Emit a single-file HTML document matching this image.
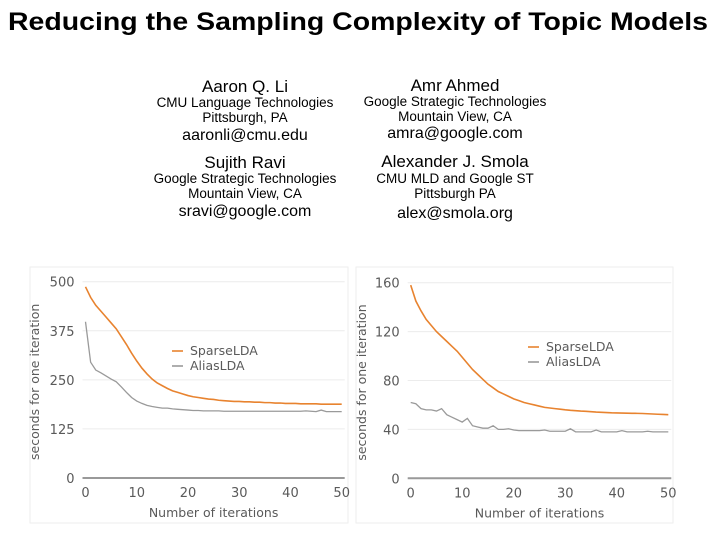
<!DOCTYPE html>
<html><head><meta charset="utf-8"><style>
body{margin:0;background:#fff}
svg{display:block;font-family:"Liberation Sans",sans-serif}
.ct{font-family:"DejaVu Sans","Liberation Sans",sans-serif;fill:#5a5a5a}
</style></head><body>
<svg id="s" width="720" height="540" xmlns="http://www.w3.org/2000/svg">
<text x="8" y="30" font-size="25" font-weight="bold" textLength="700" lengthAdjust="spacingAndGlyphs">Reducing the Sampling Complexity of Topic Models</text>
<g text-anchor="middle" fill="#000">
<text x="245" y="92" font-size="17">Aaron Q. Li</text>
<text x="245" y="107" font-size="13.5">CMU Language Technologies</text>
<text x="245" y="122" font-size="13.5">Pittsburgh, PA</text>
<text x="245" y="140" font-size="16">aaronli@cmu.edu</text>
<text x="245" y="168" font-size="17">Sujith Ravi</text>
<text x="245" y="183" font-size="13.5">Google Strategic Technologies</text>
<text x="245" y="198" font-size="13.5">Mountain View, CA</text>
<text x="245" y="216" font-size="16">sravi@google.com</text>
<text x="455" y="91" font-size="17">Amr Ahmed</text>
<text x="455" y="106" font-size="13.5">Google Strategic Technologies</text>
<text x="455" y="121" font-size="13.5">Mountain View, CA</text>
<text x="455" y="138" font-size="16">amra@google.com</text>
<text x="455" y="167" font-size="17">Alexander J. Smola</text>
<text x="455" y="183" font-size="13.5">CMU MLD and Google ST</text>
<text x="455" y="198" font-size="13.5">Pittsburgh PA</text>
<text x="455" y="218" font-size="16">alex@smola.org</text>
</g>
<rect x="30" y="267" width="318" height="256" fill="none" stroke="#eee"/>
<rect x="356" y="267" width="317" height="256" fill="none" stroke="#eee"/>
<g id="c1"></g>
<g id="c2"></g>
</svg>
<script>
const iters=[];for(let i=0;i<=50;i++)iters.push(i);
const xTicks=[0,10,20,30,40,50];
const leftYTicks=[0,125,250,375,500];
const rightYTicks=[0,40,80,120,160];
const leftSparse=[487,460,440,425,410,395,380,360,340,318,298,280,265,252,242,235,228,222,218,214,210,207,205,203,201,200,198,197,196,195,195,194,194,193,193,192,192,191,191,190,190,190,189,189,189,189,188,188,188,188,188];
const leftAlias=[398,295,275,268,260,252,245,232,218,205,196,190,185,182,180,178,178,176,175,174,173,172,172,171,171,171,171,170,170,170,170,170,170,170,170,170,170,170,170,170,170,170,170,171,170,169,173,169,169,169,169];
const rightSparse=[158,145,137,130,125,120,116,112,108,104,99,94,89,85,81,77,74,71,69,67,65,63.5,62,61,60,59,58,57.5,57,56.5,56,55.6,55.3,55,54.8,54.5,54.2,54,53.8,53.6,53.5,53.4,53.3,53.2,53.1,53,52.8,52.6,52.4,52.2,52];
const rightAlias=[62,61,57,56,56,55,57,52,50,48,46,49,43,42,41,41,43,40,40,40.5,39.5,39,39,39,39,39,39.5,38.5,38.5,38.5,38.5,40.5,38,38,38,38,39.5,38,38,38,38,39,38,38,38,38,38.5,38,38,38,38];
const NS='http://www.w3.org/2000/svg';
function mk(p,t,a){const e=document.createElementNS(NS,t);for(const k in a)e.setAttribute(k,a[k]);p.appendChild(e);return e;}
function chart(g,x0,x1,y0,y1,ymax,yTicks,sA,sB,legX,legY,titleX){
 const X=v=>x0+(v-0)/50*(x1-x0), Y=v=>y0-(v/ymax)*(y0-y1);
 yTicks.forEach(t=>{
  const l=mk(g,'line',{x1:x0-3,x2:x1+3,y1:Y(t),y2:Y(t),stroke:t===0?'#999':'#ececec','stroke-width':t===0?2:1});
  
  
  const tx=mk(g,'text',{x:x0-11,y:Y(t)+5,'text-anchor':'end','font-size':13,class:'ct'});tx.textContent=t;
  
  
 });
 xTicks.forEach(t=>{
  const tx=mk(g,'text',{x:X(t),y:y0+19,'text-anchor':'middle','font-size':13,class:'ct'});tx.textContent=t;
  
  
 });
 const xt=mk(g,'text',{x:(x0+x1)/2,y:y0+39,'text-anchor':'middle','font-size':12.5,class:'ct'});xt.textContent='Number of iterations';
 
 
 const yt=mk(g,'text',{x:0,y:0,'text-anchor':'middle','font-size':12.5,class:'ct',transform:`translate(${titleX},${(y0+y1)/2+2}) rotate(-90)`});yt.textContent='seconds for one iteration';
 
 
 const pa=mk(g,'polyline',{points:sA.map((v,i)=>X(iters[i])+','+Y(v)).join(' '),fill:'none',stroke:'#e8832f','stroke-width':1.6});
 
 
 const pb=mk(g,'polyline',{points:sB.map((v,i)=>X(iters[i])+','+Y(v)).join(' '),fill:'none',stroke:'#9a9a9a','stroke-width':1.3});
 
 
 [['SparseLDA','#e8832f',0],['AliasLDA','#9a9a9a',15]].forEach(([n,c,d])=>{
  const l=mk(g,'line',{x1:legX,x2:legX+11,y1:legY+d,y2:legY+d,stroke:c,'stroke-width':1.6});
  
  
  const t=mk(g,'text',{x:legX+18,y:legY+d+4,'font-size':12.5,class:'ct'});t.textContent=n;
  
  
 });
}
chart(document.getElementById('c1'),85.5,341.7,478,281.7,500,leftYTicks,leftSparse,leftAlias,172,351,39);
chart(document.getElementById('c2'),410.7,668.3,478.3,282.7,160,rightYTicks,rightSparse,rightAlias,528,347,366);
</script>
</body></html>
